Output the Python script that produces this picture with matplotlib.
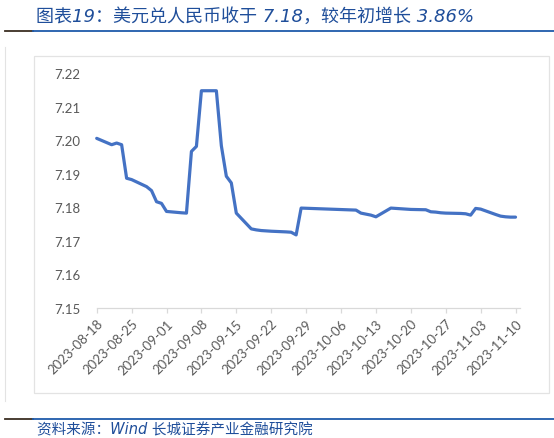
import numpy as np
import pandas as pd
import matplotlib
matplotlib.use("Agg")
import matplotlib.pyplot as plt
import matplotlib.dates as mdates
from matplotlib.lines import Line2D
from matplotlib.patches import Rectangle

# ── Data (USD/CNY) ───────────────────────────────────────────────────────────
dates = [
    "2023-08-18", "2023-08-21", "2023-08-22", "2023-08-23", "2023-08-24",
    "2023-08-25", "2023-08-28", "2023-08-29", "2023-08-30", "2023-08-31",
    "2023-09-01", "2023-09-04", "2023-09-05", "2023-09-06", "2023-09-07",
    "2023-09-08", "2023-09-11", "2023-09-12", "2023-09-13", "2023-09-14",
    "2023-09-15", "2023-09-18", "2023-09-19", "2023-09-20", "2023-09-21",
    "2023-09-22", "2023-09-25", "2023-09-26", "2023-09-27", "2023-09-28",
    "2023-10-09", "2023-10-10", "2023-10-11", "2023-10-12", "2023-10-13",
    "2023-10-16", "2023-10-17", "2023-10-18", "2023-10-19", "2023-10-20",
    "2023-10-23", "2023-10-24", "2023-10-25", "2023-10-26", "2023-10-27",
    "2023-10-30", "2023-10-31", "2023-11-01", "2023-11-02", "2023-11-03",
    "2023-11-06", "2023-11-07", "2023-11-08", "2023-11-09", "2023-11-10",
]
usdcny = [
    7.2006, 7.1987, 7.1992, 7.1987, 7.1887,
    7.1883, 7.1862, 7.1850, 7.1817, 7.1812,
    7.1788, 7.1784, 7.1783, 7.1967, 7.1982,
    7.2148, 7.2148, 7.1984, 7.1893, 7.1873,
    7.1783, 7.1736, 7.1733, 7.1731, 7.1730,
    7.1729, 7.1727, 7.1726, 7.1718, 7.1798,
    7.1792, 7.1783, 7.1780, 7.1777, 7.1772,
    7.1798, 7.1797, 7.1796, 7.1795, 7.1794,
    7.1793, 7.1787, 7.1786, 7.1784, 7.1783,
    7.1782, 7.1781, 7.1777, 7.1797, 7.1795,
    7.1779, 7.1774, 7.1772, 7.1771, 7.1771,
]
y_ticks = [7.15, 7.16, 7.17, 7.18, 7.19, 7.20, 7.21, 7.22]

title = "图表19：美元兑人民币收于 7.18，较年初增长 3.86%"
source = "资料来源：Wind 长城证券产业金融研究院"

# ── Style ────────────────────────────────────────────────────────────────────
W, H = 554, 439
plt.rcParams["font.family"] = ["Lato", "Noto Sans CJK SC", "DejaVu Sans"]
LINE_BLUE = "#4472C4"
TITLE_BLUE = "#1F4E9A"
GRAY_TXT = "#595959"
GRAY_AX = "#D9D9D9"

fig = plt.figure(figsize=(W / 100, H / 100), dpi=100)


def px(x, y):
    return x / W, 1 - y / H


# outer decorations: header / footer rules, chart frame
for yy in (32, 420):
    fig.add_artist(Line2D([px(5, 0)[0], px(33, 0)[0]], [px(0, yy)[1]] * 2,
                          color="#3A2E22", lw=1.3))
    fig.add_artist(Line2D([px(33, 0)[0], 1.0], [px(0, yy)[1]] * 2,
                          color="#1F5BAA", lw=1.3))
fig.add_artist(Line2D([px(5, 0)[0]] * 2, [px(0, 48)[1], px(0, 402)[1]],
                      color="#E3E3E3", lw=0.8))
x0, y0 = px(34, 394)
x1, y1 = px(549, 57)
fig.add_artist(Rectangle((x0, y0), x1 - x0, y1 - y0, fill=False,
                         edgecolor="#E3E3E3", lw=0.9))

fig.text(*px(36, 17), title, fontsize=13, color=TITLE_BLUE,
         style="italic", va="center", ha="left",
         family=["DejaVu Sans", "Noto Sans CJK SC"])
fig.text(*px(37, 430), source, fontsize=10.5, color=TITLE_BLUE,
         style="italic", va="center", ha="left",
         family=["DejaVu Sans", "Noto Sans CJK SC"])

# ── Plot ─────────────────────────────────────────────────────────────────────
left, bottom = px(96.7, 309)
right, top = px(520, 74.3)
ax = fig.add_axes([left, bottom, right - left, top - bottom])

d = pd.to_datetime(dates)
ax.plot(d, usdcny, color=LINE_BLUE, lw=2.3, solid_joinstyle="round",
        solid_capstyle="round", clip_on=False)

ticks = pd.date_range(d[0], d[-1], freq="7D")
ax.set_xticks(ticks)
ax.xaxis.set_major_formatter(mdates.DateFormatter("%Y-%m-%d"))
ax.set_xlim(d[0], d[-1] + pd.Timedelta(days=0.9))
ax.set_ylim(y_ticks[0], y_ticks[-1])
ax.set_yticks(y_ticks)
ax.yaxis.set_major_formatter(matplotlib.ticker.FormatStrFormatter("%.2f"))

for s in ("top", "right", "left"):
    ax.spines[s].set_visible(False)
ax.spines["bottom"].set_color(GRAY_AX)
ax.spines["bottom"].set_linewidth(0.9)
ax.tick_params(axis="x", direction="out", length=3.5, width=0.9,
               color=GRAY_AX, labelcolor=GRAY_TXT, labelsize=9.5, pad=3)
ax.tick_params(axis="y", length=0, labelcolor=GRAY_TXT, labelsize=9.5, pad=12)
for lab in ax.get_xticklabels():
    lab.set_rotation(45)
    lab.set_ha("right")
    lab.set_rotation_mode("anchor")
ax.patch.set_visible(False)

fig.savefig("out.png", dpi=100)
